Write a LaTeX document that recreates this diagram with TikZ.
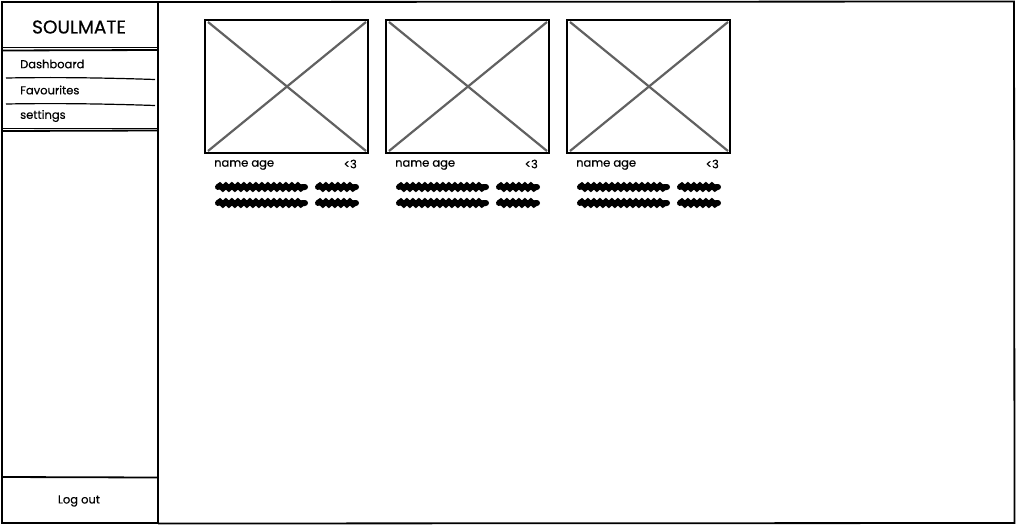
\documentclass[tikz,border=0pt]{standalone}
\usepackage{fontspec}
\setmainfont{Poppins}[FakeBold=0.5]
\usetikzlibrary{decorations.pathmorphing}
\begin{document}
\begin{tikzpicture}[x=1pt,y=-1pt,
  frame/.style={draw=black,line width=1.8pt},
  thin/.style={draw=black,line width=1.2pt},
  cross/.style={draw=black!62,line width=2.2pt},
  img/.style={draw=black,line width=2pt},
  lbl/.style={font=\fontsize{11.5}{13}\selectfont,inner sep=0pt,anchor=west},
  menu/.style={font=\fontsize{11.5}{13}\selectfont,inner sep=0pt,anchor=west},
  scrib/.style={draw=black,line width=6pt,line cap=round,decorate,decoration={snake,segment length=6pt,amplitude=1.3pt}}]
\useasboundingbox (0,0) rectangle (1016,525);
% main frame
\draw[frame] (158,2) -- (1014,1.5) -- (1014.5,523) -- (158,523.5);
% sidebar
\draw[frame] (2,2) rectangle (158,523);
\draw[frame] (2,47.5) -- (158,47.5);
\draw[frame] (2,50.5) -- (158,50);
\draw[frame] (2,128.5) -- (158,128.5);
\draw[frame] (2,131) -- (158,130.5);
\draw[frame] (2,477) -- (158,477.5);
\node[font=\fontsize{18.5}{21}\selectfont,inner sep=0pt] (title) at (79,27) {SOULMATE};
\node[menu] (m1) at (20,64) {Dashboard};
\node[menu] (m2) at (20,90) {Favourites};
\node[menu] (m3) at (20,116) {settings};
\draw[thin] (6,78) .. controls (60,77) and (110,78) .. (155,79.5);
\draw[thin] (6,104) .. controls (60,103) and (110,104) .. (155,105.5);
\node[font=\fontsize{11.5}{13}\selectfont,inner sep=0pt] (logout) at (79,501) {Log out};
% cards
\foreach \x/\n in {205/a,386/b,567/c}{
  \draw[img] (\x,20) rectangle ++(163,133);
  \draw[cross] (\x+3,22) -- (\x+161,151);
  \draw[cross] (\x+161,22) -- (\x+3,151);
  \node[lbl] (name\n) at (\x+9,165) {name age};
  \node[lbl,anchor=east] (heart\n) at (\x+152,164) {<3};
  \draw[scrib] (\x+13,187) -- (\x+100,187);
  \draw[scrib] (\x+113,187) -- (\x+151,187);
  \draw[scrib] (\x+13,203) -- (\x+100,203);
  \draw[scrib] (\x+113,203) -- (\x+151,203);
}
\end{tikzpicture}
\end{document}
